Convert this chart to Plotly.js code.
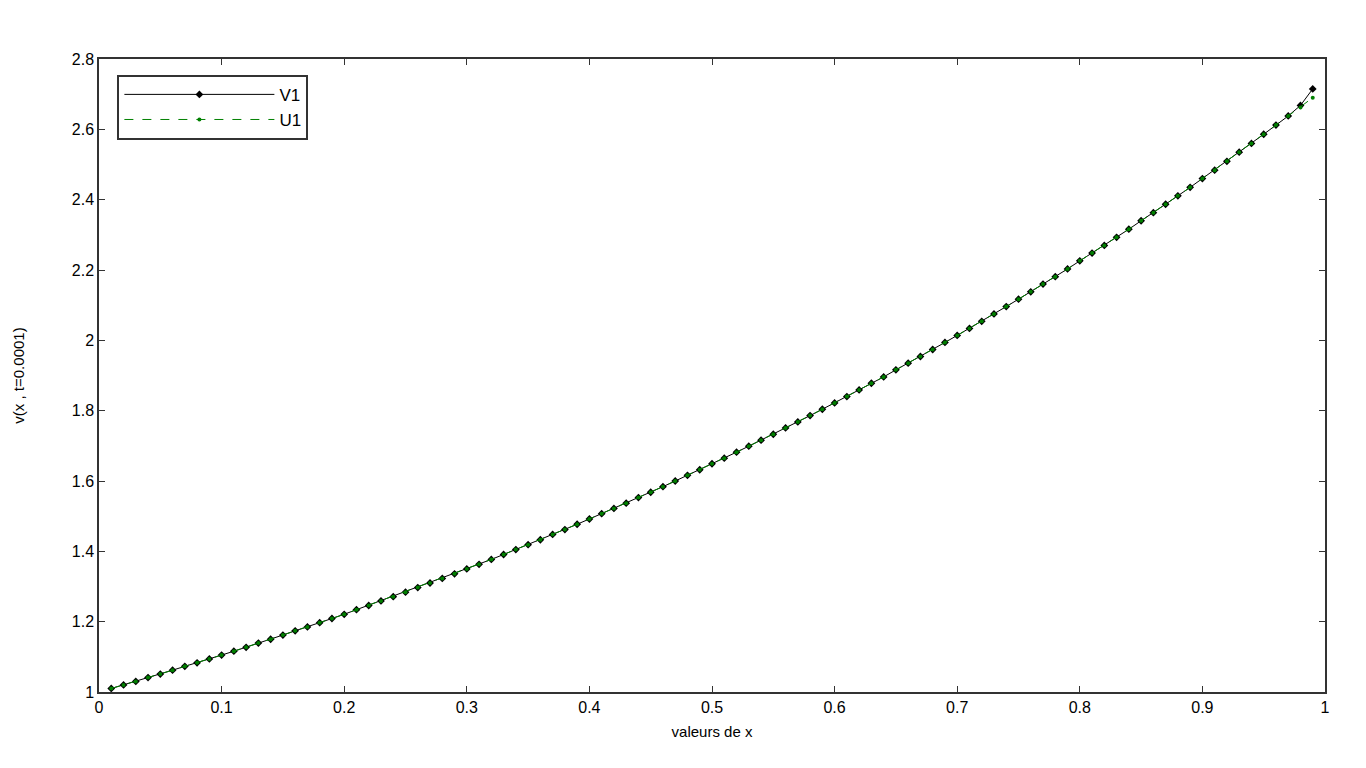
<!DOCTYPE html>
<html>
<head>
<meta charset="utf-8">
<script src="https://cdn.plot.ly/plotly-3.0.1.min.js"></script>
<style>
    body { margin: 0; background: #ffffff; }
    #plot { width: 1366px; height: 768px; }
</style>
</head>
<body>
<div id="plot"></div>
<script>
// x positions of the samples
var xVals = [
    0.01, 0.02, 0.03, 0.04, 0.05, 0.06, 0.07, 0.08, 0.09, 0.10,
    0.11, 0.12, 0.13, 0.14, 0.15, 0.16, 0.17, 0.18, 0.19, 0.20,
    0.21, 0.22, 0.23, 0.24, 0.25, 0.26, 0.27, 0.28, 0.29, 0.30,
    0.31, 0.32, 0.33, 0.34, 0.35, 0.36, 0.37, 0.38, 0.39, 0.40,
    0.41, 0.42, 0.43, 0.44, 0.45, 0.46, 0.47, 0.48, 0.49, 0.50,
    0.51, 0.52, 0.53, 0.54, 0.55, 0.56, 0.57, 0.58, 0.59, 0.60,
    0.61, 0.62, 0.63, 0.64, 0.65, 0.66, 0.67, 0.68, 0.69, 0.70,
    0.71, 0.72, 0.73, 0.74, 0.75, 0.76, 0.77, 0.78, 0.79, 0.80,
    0.81, 0.82, 0.83, 0.84, 0.85, 0.86, 0.87, 0.88, 0.89, 0.90,
    0.91, 0.92, 0.93, 0.94, 0.95, 0.96, 0.97, 0.98, 0.99
];

// V1 values
var v1Vals = [
    1.010, 1.020, 1.030, 1.041, 1.051, 1.062, 1.073, 1.083, 1.094, 1.105,
    1.116, 1.127, 1.139, 1.150, 1.162, 1.174, 1.185, 1.197, 1.209, 1.221,
    1.234, 1.246, 1.259, 1.271, 1.284, 1.297, 1.310, 1.323, 1.336, 1.350,
    1.363, 1.377, 1.391, 1.405, 1.419, 1.433, 1.448, 1.462, 1.477, 1.492,
    1.507, 1.522, 1.537, 1.553, 1.568, 1.584, 1.600, 1.616, 1.632, 1.649,
    1.665, 1.682, 1.699, 1.716, 1.733, 1.751, 1.768, 1.786, 1.804, 1.822,
    1.840, 1.859, 1.878, 1.896, 1.916, 1.935, 1.954, 1.974, 1.994, 2.014,
    2.034, 2.054, 2.075, 2.096, 2.117, 2.138, 2.160, 2.181, 2.203, 2.226,
    2.248, 2.270, 2.293, 2.316, 2.340, 2.363, 2.387, 2.411, 2.435, 2.460,
    2.484, 2.509, 2.535, 2.560, 2.586, 2.612, 2.638, 2.668, 2.715
];

// U1 values (only the last point really differs)
var u1Vals = [
    1.010, 1.020, 1.030, 1.041, 1.051, 1.062, 1.073, 1.083, 1.094, 1.105,
    1.116, 1.127, 1.139, 1.150, 1.162, 1.174, 1.185, 1.197, 1.209, 1.221,
    1.234, 1.246, 1.259, 1.271, 1.284, 1.297, 1.310, 1.323, 1.336, 1.350,
    1.363, 1.377, 1.391, 1.405, 1.419, 1.433, 1.448, 1.462, 1.477, 1.492,
    1.507, 1.522, 1.537, 1.553, 1.568, 1.584, 1.600, 1.616, 1.632, 1.649,
    1.665, 1.682, 1.699, 1.716, 1.733, 1.751, 1.768, 1.786, 1.804, 1.822,
    1.840, 1.859, 1.878, 1.896, 1.916, 1.935, 1.954, 1.974, 1.994, 2.014,
    2.034, 2.054, 2.075, 2.096, 2.117, 2.138, 2.160, 2.181, 2.203, 2.226,
    2.248, 2.270, 2.293, 2.316, 2.340, 2.363, 2.387, 2.411, 2.435, 2.460,
    2.484, 2.509, 2.535, 2.560, 2.586, 2.612, 2.638, 2.662, 2.690
];

var traces = [
    {
        name: "V1",
        x: xVals,
        y: v1Vals,
        type: "scatter",
        mode: "lines+markers",
        line: { color: "#000000", width: 1 },
        marker: { symbol: "diamond", size: 6, color: "#000000" }
    },
    {
        name: "U1",
        x: xVals,
        y: u1Vals,
        type: "scatter",
        mode: "lines+markers",
        line: { color: "#008000", width: 1, dash: "dash" },
        marker: { symbol: "circle", size: 4, color: "#008000" }
    }
];

var axisStyle = {
    showline: true,
    linecolor: "#333333",
    linewidth: 1.5,
    mirror: "ticks",
    ticks: "inside",
    ticklen: 6,
    tickcolor: "#333333",
    showgrid: false,
    zeroline: false,
    tickfont: { family: "Liberation Sans, Arial, sans-serif", size: 16, color: "#000000" }
};

var layout = {
    width: 1366,
    height: 768,
    paper_bgcolor: "#ffffff",
    plot_bgcolor: "#ffffff",
    margin: { l: 99, r: 41, t: 59, b: 76 },
    font: { family: "Liberation Sans, Arial, sans-serif", size: 16, color: "#000000" },
    showlegend: true,
    legend: {
        x: 0.015,
        y: 0.975,
        xanchor: "left",
        yanchor: "top",
        bordercolor: "#333333",
        borderwidth: 2,
        bgcolor: "#ffffff",
        itemwidth: 150,
        tracegroupgap: 0,
        font: { size: 17 }
    },
    xaxis: Object.assign({}, axisStyle, {
        range: [0, 1],
        tick0: 0,
        dtick: 0.1,
        title: { text: "valeurs de x", standoff: 12, font: { size: 15 } }
    }),
    yaxis: Object.assign({}, axisStyle, {
        range: [1, 2.8],
        tick0: 1,
        dtick: 0.2,
        title: { text: "v(x , t=0.0001)", standoff: 44, font: { size: 15 } }
    })
};

var config = { responsive: false, displayModeBar: false };
Plotly.newPlot("plot", traces, layout, config);
</script>
</body>
</html>
